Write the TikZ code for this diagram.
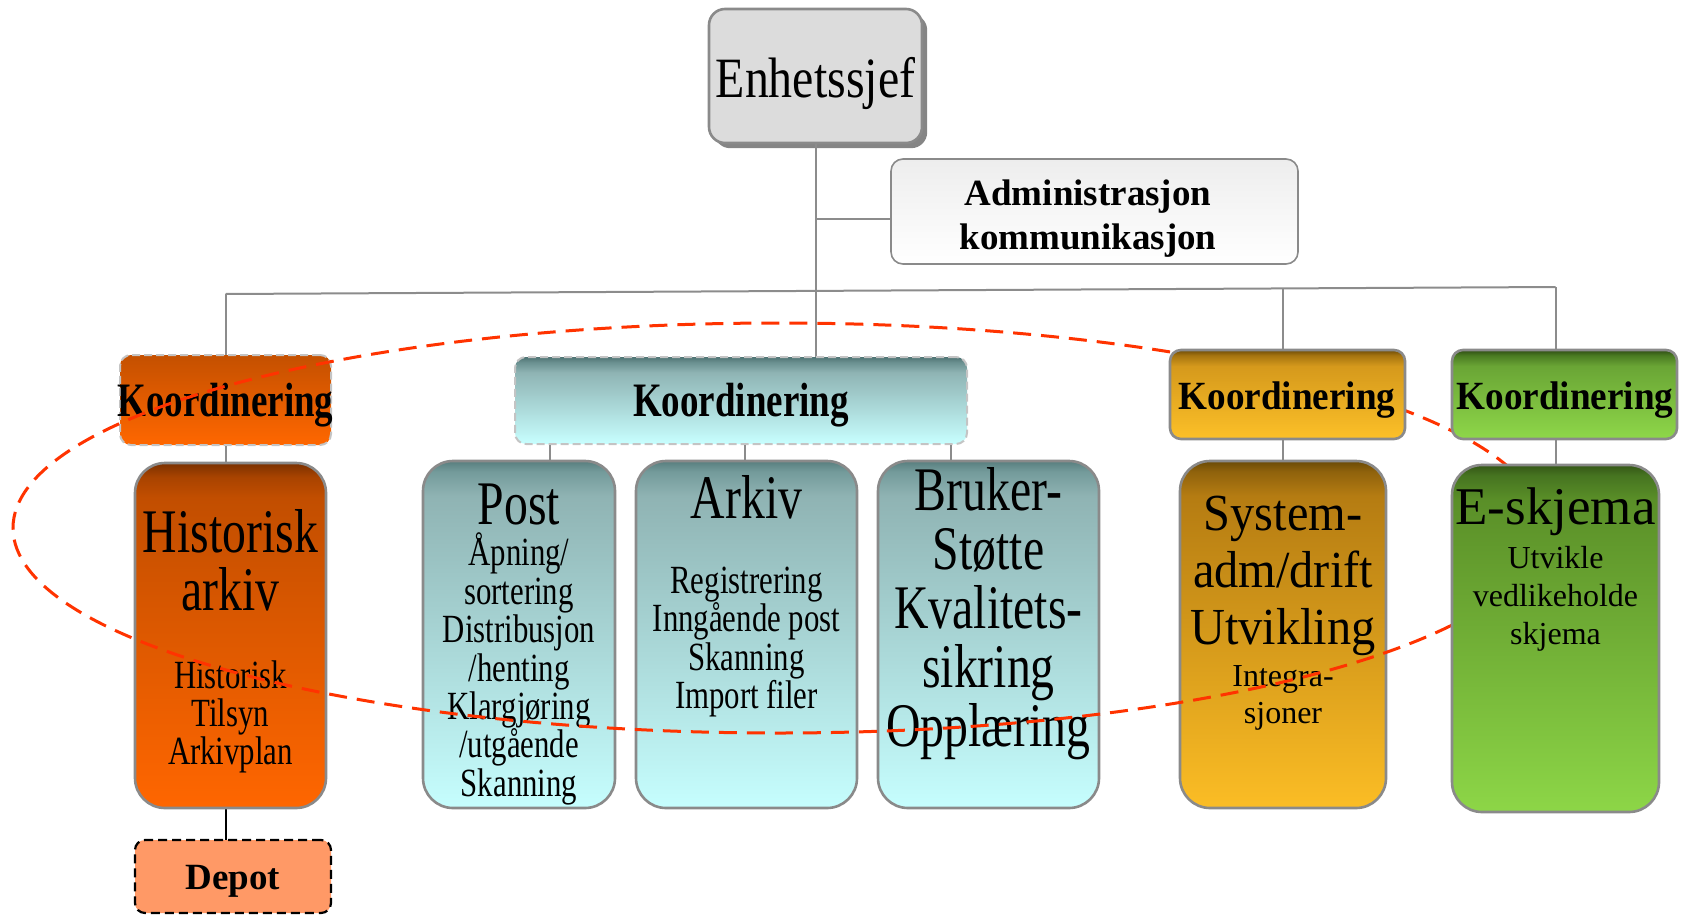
\documentclass[tikz,border=0pt]{standalone}
\usepackage{fontspec}
\setmainfont{Liberation Serif}
\newfontfamily\fA[FakeStretch=0.84]{Liberation Serif}
\newfontfamily\fB[FakeStretch=0.77]{Liberation Serif}
\newfontfamily\fC[FakeStretch=0.93]{Liberation Serif}
\usetikzlibrary{shadows,calc}

\definecolor{frameGray}{HTML}{8A8A8A}
\definecolor{lineGray}{HTML}{8C8C8C}
\definecolor{dashGray}{HTML}{C4C4C4}
\definecolor{ellRed}{HTML}{FF3300}
\definecolor{enhFill}{HTML}{DCDCDC}
\definecolor{shGray}{HTML}{858585}
\definecolor{depFill}{HTML}{FF9966}
% orange (historisk)
\definecolor{hiB}{HTML}{FF6600}
\definecolor{hiM}{HTML}{C24E00}
\definecolor{hiN}{HTML}{A84300}
\definecolor{hiT}{HTML}{7A3000}
\definecolor{lkT}{HTML}{C45000}
\definecolor{lkB}{HTML}{FF6700}
% teal
\definecolor{tlB}{HTML}{C6FEFE}
\definecolor{tlM}{HTML}{8FB3B3}
\definecolor{tlN}{HTML}{739A9A}
\definecolor{tlT}{HTML}{587E7E}
\definecolor{mkB}{HTML}{C8FFFF}
\definecolor{mkM}{HTML}{8FB4B4}
\definecolor{mkN}{HTML}{6A9090}
\definecolor{mkT}{HTML}{4F7373}
% gold
\definecolor{okB}{HTML}{FCC028}
\definecolor{okM}{HTML}{D5991C}
\definecolor{okN}{HTML}{A57410}
\definecolor{okT}{HTML}{6E4C08}
\definecolor{syB}{HTML}{FBBD25}
\definecolor{syM}{HTML}{B57C12}
\definecolor{syN}{HTML}{8F620C}
\definecolor{syT}{HTML}{6A4A06}
% green
\definecolor{gkB}{HTML}{8ED749}
\definecolor{gkM}{HTML}{6AA535}
\definecolor{gkN}{HTML}{4A7A22}
\definecolor{gkT}{HTML}{2F4D14}
\definecolor{esB}{HTML}{8DD647}
\definecolor{esM}{HTML}{5A8F28}
\definecolor{esN}{HTML}{467420}
\definecolor{esT}{HTML}{345616}

\pgfdeclareverticalshading{shHist}{100bp}{color(0bp)=(hiB); color(25bp)=(hiB); color(70bp)=(hiM); color(73bp)=(hiN); color(75bp)=(hiT); color(100bp)=(hiT)}
\pgfdeclareverticalshading{shTeal}{100bp}{color(0bp)=(tlB); color(25bp)=(tlB); color(70bp)=(tlM); color(73.5bp)=(tlN); color(75bp)=(tlT); color(100bp)=(tlT)}
\pgfdeclareverticalshading{shMk}{100bp}{color(0bp)=(mkB); color(25bp)=(mkB); color(66bp)=(mkM); color(72bp)=(mkN); color(75bp)=(mkT); color(100bp)=(mkT)}
\pgfdeclareverticalshading{shOk}{100bp}{color(0bp)=(okB); color(25bp)=(okB); color(66bp)=(okM); color(72bp)=(okN); color(75bp)=(okT); color(100bp)=(okT)}
\pgfdeclareverticalshading{shSys}{100bp}{color(0bp)=(syB); color(25bp)=(syB); color(70bp)=(syM); color(73.5bp)=(syN); color(75bp)=(syT); color(100bp)=(syT)}
\pgfdeclareverticalshading{shGk}{100bp}{color(0bp)=(gkB); color(25bp)=(gkB); color(66bp)=(gkM); color(72bp)=(gkN); color(75bp)=(gkT); color(100bp)=(gkT)}
\pgfdeclareverticalshading{shEs}{100bp}{color(0bp)=(esB); color(25bp)=(esB); color(70bp)=(esM); color(73.5bp)=(esN); color(75bp)=(esT); color(100bp)=(esT)}

\tikzset{
  frame/.style={draw=frameGray, line width=1.3pt, inner sep=0pt, rectangle},
  bigbox/.style={frame, rounded corners=15pt},
  kbox/.style={frame, rounded corners=5.5pt},
  dkbox/.style={rectangle, inner sep=0pt, draw=dashGray, line width=1pt, dash pattern=on 4pt off 2pt, rounded corners=5.5pt},
  conn/.style={draw=lineGray, line width=1pt},
  bconn/.style={draw=black, line width=1pt},
  ell/.style={draw=ellRed, line width=1.5pt, dash pattern=on 9pt off 5pt},
  txt/.style={inner sep=0pt, align=center, text=black},
}

\begin{document}
\begin{tikzpicture}[x=0.5pt,y=-0.5pt]
\useasboundingbox (0,0) rectangle (1689,915);

% ---------- connector coordinates ----------
\coordinate (busL) at (225.5,294);
\coordinate (busR) at (1555.5,287);
\coordinate (busO) at (1283,288.4);
\coordinate (pT) at (550,0);
\coordinate (aT) at (745,0);
\coordinate (bT) at (951,0);

% ---------- boxes (nodes) ----------
\node[frame, rounded corners=8pt, fill=enhFill, minimum width=106.5pt, minimum height=67pt,
      drop shadow={shadow xshift=2.6pt, shadow yshift=-2.6pt, fill=shGray, opacity=1}] (enh) at (815.5,76) {};
\node[frame, line width=0.8pt, rounded corners=6pt, top color=gray!14, bottom color=white,
      minimum width=203.5pt, minimum height=52.5pt] (adm) at (1094.5,211.5) {};

% connectors first (behind boxes)
\draw[conn] (enh.south) -- (enh.south |- 0,357);
\draw[conn] ($(enh.south |- adm.west)+(0,7.5)$) -- ($(adm.west)+(0,7.5)$);
\draw[conn] (busL) -- (busR);
\draw[conn] (busL) -- (225.5,355);
\draw[conn] (busO) -- (1283,350);
\draw[conn] (busR) -- (1555.5,350);

\node[dkbox, top color=lkT, bottom color=lkB, minimum width=105.5pt, minimum height=45pt] (lk) at (225.5,400) {};
\node[dkbox, shade, shading=shMk, minimum width=226pt, minimum height=43.5pt] (mk) at (741,400.5) {};

\draw[conn] (lk.south) -- (225.5,463);
\draw[conn] (mk.south -| pT) -- (550,466);
\draw[conn] (mk.south -| aT) -- (745,466);
\draw[conn] (mk.south -| bT) -- (951,463);
\draw[conn] (1283,439) -- (1283,461);
\draw[conn] (1555.5,439) -- (1555.5,465);
\draw[bconn] (225.5,808) -- (225.5,840);

\node[bigbox, shade, shading=shHist, minimum width=95.5pt, minimum height=172.5pt] (hist) at (230.5,635.5) {};
\node[bigbox, shade, shading=shTeal, minimum width=96pt, minimum height=173.5pt] (post) at (519,634.5) {};
\node[bigbox, shade, shading=shTeal, minimum width=110.5pt, minimum height=173.5pt] (ark) at (746.5,634.5) {};
\node[bigbox, shade, shading=shTeal, minimum width=110.5pt, minimum height=173.5pt] (bru) at (988.5,634.5) {};
\node[bigbox, shade, shading=shSys, minimum width=103pt, minimum height=173.5pt] (sys) at (1283,634.5) {};
\node[rectangle, inner sep=0pt, draw=black, line width=1.1pt, dash pattern=on 4.5pt off 2.5pt,
      rounded corners=5pt, fill=depFill, minimum width=98pt, minimum height=36.5pt] (dep) at (233,876.5) {};

% ---------- texts (front layer) ----------
\node[txt, font=\fA\fontsize{28.5}{30}\selectfont] (enhT) at (815.5,84) {Enhetssjef};
\node[txt, font=\bfseries\fontsize{18.5}{22}\selectfont] (admT) at (1088,219) {Administrasjon\\kommunikasjon};
\node[txt, font=\fB\bfseries\fontsize{24}{26}\selectfont] (lkT) at (225.5,405) {Koordinering};
\node[txt, font=\fB\bfseries\fontsize{24}{26}\selectfont] (mkT) at (741,405) {Koordinering};

\node[txt, font=\fB\fontsize{31}{29}\selectfont] (histT) at (230.5,560) {Historisk\\arkiv};
\node[txt, font=\fB\fontsize{20}{19}\selectfont] (histB) at (230.5,717) {Historisk\\Tilsyn\\Arkivplan};
\node[txt, font=\fB\fontsize{31}{29}\selectfont] (postT) at (519,504) {Post};
\node[txt, font=\fB\fontsize{20}{19.2}\selectfont] (postB) at (519,669) {Åpning/\\sortering\\Distribusjon\\/henting\\Klargjøring\\/utgående\\Skanning};
\node[txt, font=\fB\fontsize{31}{29}\selectfont] (arkT) at (746.5,497) {Arkiv};
\node[txt, font=\fB\fontsize{20}{19.2}\selectfont] (arkB) at (746.5,642) {Registrering\\Inngående post\\Skanning\\Import filer};
\node[txt, font=\fB\fontsize{31}{29.5}\selectfont] (bruT) at (988.5,614) {Bruker-\\Støtte\\Kvalitets-\\sikring\\Opplæring};
\node[txt, font=\fC\fontsize{26}{28.5}\selectfont] (sysT) at (1283,576) {System-\\adm/drift\\Utvikling};
\node[txt, font=\fontsize{16}{18.5}\selectfont] (sysB) at (1283,698) {Integra-\\sjoner};
\node[txt, font=\bfseries\fontsize{18.5}{20}\selectfont] (depT) at (233,881) {Depot};

% ---------- red dashed ellipse ----------
\draw[ell] (778,528) ellipse [x radius=765, y radius=205];

% ---------- boxes in front of the ellipse ----------
\node[kbox, shade, shading=shOk, minimum width=117.5pt, minimum height=44.5pt] (ok) at (1287.5,394.5) {};
\node[kbox, shade, shading=shGk, minimum width=112.5pt, minimum height=44.5pt] (gk) at (1564.5,394.5) {};
\node[bigbox, shade, shading=shEs, minimum width=103.5pt, minimum height=173.5pt] (esk) at (1555.5,638.5) {};

\node[txt, font=\fC\bfseries\fontsize{20}{22}\selectfont] (okT) at (1287,400) {Koordinering};
\node[txt, font=\fC\bfseries\fontsize{20}{22}\selectfont] (gkT) at (1565,400) {Koordinering};
\node[txt, font=\fontsize{26.5}{28}\selectfont] (eskT) at (1555.5,512) {E-skjema};
\node[txt, font=\fontsize{16}{19}\selectfont] (eskB) at (1555.5,599) {Utvikle\\vedlikeholde\\skjema};
\end{tikzpicture}
\end{document}
